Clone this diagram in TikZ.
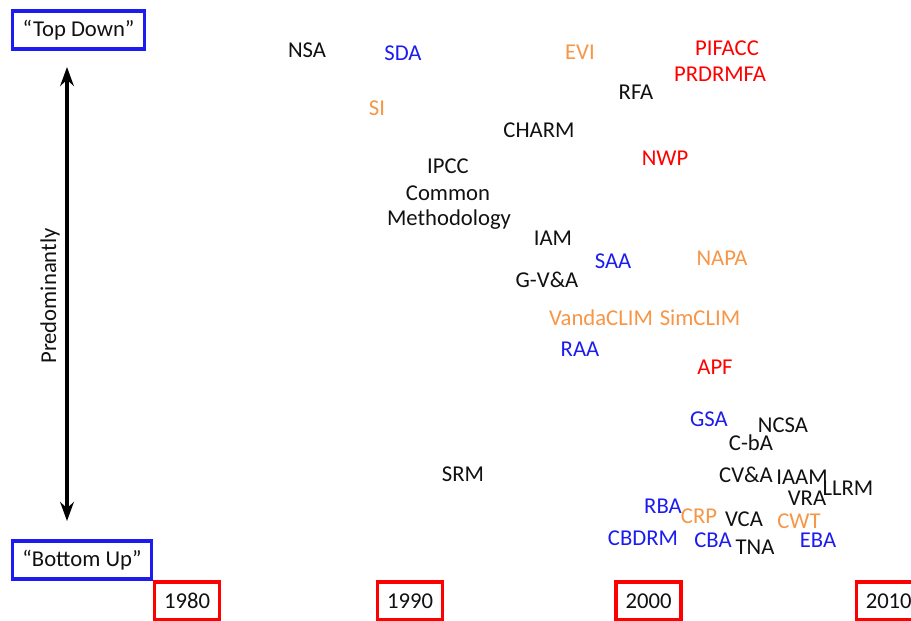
\documentclass[tikz,border=0pt]{standalone}
\usepackage{fontspec}
\setmainfont{Carlito}
\usepackage{tikz}
\usetikzlibrary{arrows.meta,positioning}
\definecolor{trBlue}{HTML}{1C1CF0}
\definecolor{trOrange}{HTML}{F79646}
\definecolor{trRed}{HTML}{FF0000}
\definecolor{trInk}{HTML}{111111}
\tikzset{
  endbox/.style={rectangle, draw=trBlue, line width=2.6pt, fill=white,
    minimum height=28.5pt, inner sep=0pt, font=\fontsize{17}{20}\selectfont, text=trInk},
  yearbox/.style={rectangle, draw=trRed, line width=2.6pt, fill=white,
    minimum height=28.5pt, minimum width=49pt, inner sep=0pt, font=\fontsize{17}{20}\selectfont, text=trInk},
  tool/.style={inner sep=0pt, font=\fontsize{17}{20}\selectfont, text=trInk},
  tooltd/.style={tool, text=trInk},
  toolbl/.style={tool, text=trBlue},
  toolor/.style={tool, text=trOrange},
  toolrd/.style={tool, text=trRed},
  axisline/.style={{Stealth[length=5mm,width=3.6mm]}-{Stealth[length=5mm,width=3.6mm]}, draw=black, line width=2.4pt}
}
\begin{document}
\begin{tikzpicture}[x=0.75pt,y=-0.75pt]
\useasboundingbox (0,0) rectangle (911,621);
\clip (0,0) rectangle (911,621);
% ends of the scale
\node[endbox, minimum width=99pt] (topdown) at (78.5,30) {“Top Down”};
\node[endbox, minimum width=104pt] (bottomup) at (82,560) {“Bottom Up”};
\coordinate (uptip) at (67,67);
\coordinate (downtip) at (67,521);
\draw[axisline] (downtip) -- (uptip);
\node[tool, rotate=90] (predom) at (50,296) {Predominantly};

% decades
\node[yearbox] (y1980) at (187,601) {1980};
\node[yearbox] (y1990) at (410,601) {1990};
\node[yearbox] (y2000) at (648.5,601) {2000};
\node[yearbox, minimum width=52pt, anchor=west] (y2010) at (855,601) {\hspace*{-4pt}2010};

% approaches
\node[tooltd] (nsa) at (307,50) {NSA};
\node[toolbl] (sda) at (403,53) {SDA};
\node[toolor] (evi) at (580,52) {EVI};
\node[toolrd] (pifacc) at (727,48) {PIFACC};
\node[toolrd] (prdrmfa) at (720,74) {PRDRMFA};
\node[tooltd] (rfa) at (636,92) {RFA};
\node[toolor] (si) at (377,108) {SI};
\node[tooltd] (charm) at (539,130) {CHARM};
\node[toolrd] (nwp) at (665,158) {NWP};
\node[tooltd] (ipcc) at (448,166) {IPCC};
\node[tooltd] (common) at (448,193) {Common};
\node[tooltd] (method) at (449,220) {Methodology};
\node[tooltd] (iam) at (553,238) {IAM};
\node[toolbl] (saa) at (613,261) {SAA};
\node[toolor] (napa) at (722,258) {NAPA};
\node[tooltd] (gva) at (547,280) {G-V\&A};
\node[toolor] (vanda) at (601,318) {VandaCLIM};
\node[toolor] (simclim) at (700,318) {SimCLIM};
\node[toolbl] (raa) at (580,349) {RAA};
\node[toolrd] (apf) at (715,367) {APF};
\node[toolbl] (gsa) at (709,419) {GSA};
\node[tooltd] (ncsa) at (783,425) {NCSA};
\node[tooltd] (cba1) at (751,443) {C-bA};
\node[tooltd] (srm) at (463,474) {SRM};
\node[tooltd] (cva) at (746,475) {CV\&A};
\node[tooltd] (iaam) at (802,477) {IAAM};
\node[tooltd] (llrm) at (848,488) {LLRM};
\node[tooltd] (vra) at (807,498) {VRA};
\node[toolbl] (rba) at (663,506) {RBA};
\node[toolor] (crp) at (699,516) {CRP};
\node[tooltd] (vca) at (744,519) {VCA};
\node[toolor] (cwt) at (799,521) {CWT};
\node[toolbl] (cbdrm) at (643,538) {CBDRM};
\node[toolbl] (cba) at (713,540) {CBA};
\node[tooltd] (tna) at (755,547) {TNA};
\node[toolbl] (eba) at (818,540) {EBA};
\end{tikzpicture}
\end{document}
